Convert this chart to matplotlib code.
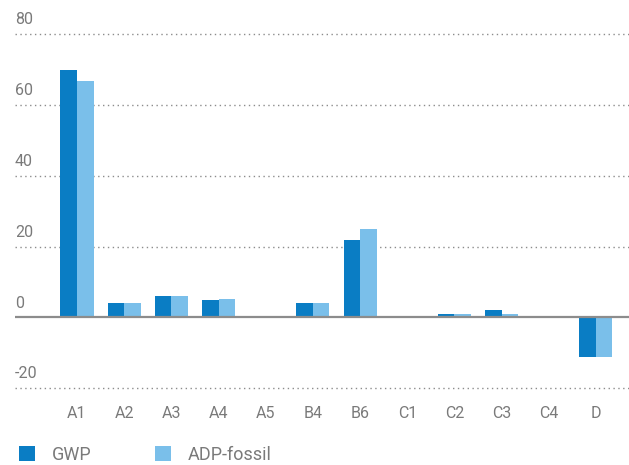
import matplotlib.pyplot as plt
import matplotlib.transforms as mtransforms
import numpy as np

plt.rcParams['font.family'] = ['Roboto', 'DejaVu Sans']

stages = ["A1", "A2", "A3", "A4", "A5", "B4", "B6", "C1", "C2", "C3", "C4", "D"]
gwp = [69.8, 4.1, 6.1, 4.9, 0, 4.1, 21.9, 0, 1.0, 2.1, 0, -11.1]
adp_fossil = [66.8, 4.1, 6.1, 5.2, 0, 4.1, 25.0, 0, 1.0, 1.0, 0, -11.1]
y_ticks = [80, 60, 40, 20, 0, -20]

dark = "#0a7dc4"
light = "#7abfea"
grey = "#7a7a7a"

W, H = 629, 465
fig = plt.figure(figsize=(W / 100, H / 100), dpi=100)
# axes in pixel coords: left 15, right 629, top 20, bottom 400
ax = fig.add_axes([15 / W, (H - 400) / H, (629 - 15) / W, (400 - 20) / H])

x = np.arange(len(stages))
w = 0.35
ax.bar(x - w / 2, gwp, width=w, color=dark, label="GWP", zorder=3)
ax.bar(x + w / 2, adp_fossil, width=w, color=light, label="ADP-fossil", zorder=3)

ax.set_xlim(-1.314, 11.70)
ax.set_ylim(-23.3, 84.0)

# dotted gridlines with labels sitting above them
lbl_tf = mtransforms.blended_transform_factory(ax.transAxes, ax.transData)
lbl_tf = lbl_tf + mtransforms.ScaledTranslation(0, 5 / 72, fig.dpi_scale_trans)
for t in y_ticks:
    if t == 0:
        ax.axhline(0, color="#8c8c8c", lw=1.6, zorder=4)
    else:
        ax.axhline(t, color="#8c8c8c", lw=1.0, ls=(0, (1, 2.5)), zorder=1)
    ax.text(0.0, t, str(t), transform=lbl_tf, ha="left", va="bottom",
            fontsize=11.5, color=grey)

for s in ax.spines.values():
    s.set_visible(False)
ax.set_yticks([])
ax.set_xticks(x)
ax.set_xticklabels(stages, fontsize=11.5, color=grey)
ax.tick_params(axis="x", length=0, pad=4)

leg = fig.legend(loc="lower left", bbox_to_anchor=(19 / W, 1 / H), ncol=2,
                 frameon=False, fontsize=13, labelcolor=grey,
                 borderpad=0, borderaxespad=0,
                 handlelength=0.9, handleheight=0.9, handletextpad=0.9,
                 columnspacing=3.55)

fig.savefig("out.png", dpi=100)
